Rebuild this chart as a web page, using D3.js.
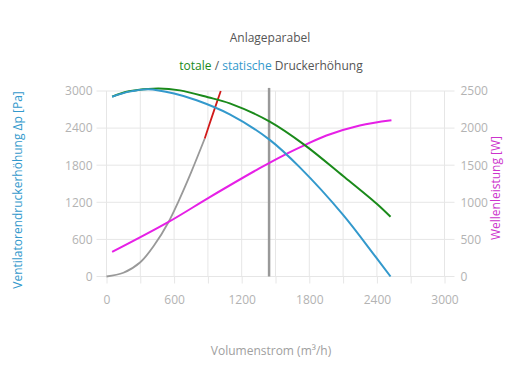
<!DOCTYPE html>
<html>
<head>
<meta charset="utf-8">
<script src="https://cdn.jsdelivr.net/npm/d3@7"></script>
<style>
  body { margin: 0; background: #fff; }
  svg text { font-family: "Open Sans", sans-serif; }
</style>
</head>
<body>
<div id="chart"></div>
<script>
// Chart Params
var svgWidth = 530;
var svgHeight = 390;
var margin = { top: 91, right: 85.5, bottom: 113.5, left: 106.5 };
var width = svgWidth - margin.left - margin.right;
var height = svgHeight - margin.top - margin.bottom;

// data (Q in m3/h)
var xTicks = [0, 600, 1200, 1800, 2400, 3000];
var yLeftTicks = [0, 600, 1200, 1800, 2400, 3000];
var yRightTicks = [0, 500, 1000, 1500, 2000, 2500];

var staticQ = [50, 200, 370, 600, 800, 1094, 1449, 1716, 2100, 2396, 2521];
var staticP = [2908, 2990, 3030, 2960, 2850, 2622, 2210, 1765, 997, 300, 0];

var totalQ = [50, 200, 458, 651, 900, 1094, 1449, 1760, 2100, 2396, 2521];
var totalP = [2910, 2995, 3040, 3010, 2900, 2800, 2505, 2125, 1625, 1180, 965];

var powerQ = [50, 547, 917, 1360, 1568, 1745, 1952, 2248, 2529];
var powerW = [331, 732, 1070, 1460, 1630, 1760, 1900, 2035, 2105];

var systemQ = [0, 150, 300, 429, 547, 650, 750, 872];
var systemP = [0, 60, 230, 520, 870, 1260, 1680, 2232];

var redQ = [872, 931, 1014];
var redP = [2232, 2557, 3000];

var opQ = 1443; // vertical marker line

var svg = d3.select("#chart")
  .append("svg")
  .attr("width", svgWidth)
  .attr("height", svgHeight);

var chartGroup = svg.append("g")
  .attr("transform", `translate(${margin.left}, ${margin.top})`);

var xScale = d3.scaleLinear().domain([0, 3000]).range([0, width]);
var yLeft = d3.scaleLinear().domain([0, 3000]).range([height, 0]);
var yRight = d3.scaleLinear().domain([0, 2500]).range([height, 0]);

// gridlines
chartGroup.append("g")
  .selectAll("line")
  .data(d3.range(0, 3001, 300))
  .enter()
  .append("line")
  .attr("x1", d => xScale(d))
  .attr("x2", d => xScale(d))
  .attr("y1", 0)
  .attr("y2", height)
  .attr("stroke", "#e6e6e6");

chartGroup.append("g")
  .selectAll("line")
  .data(yLeftTicks)
  .enter()
  .append("line")
  .attr("x1", -10)
  .attr("x2", width + 10)
  .attr("y1", d => yLeft(d))
  .attr("y2", d => yLeft(d))
  .attr("stroke", "#e6e6e6");

// axes
var bottomAxis = d3.axisBottom(xScale).tickValues(d3.range(0, 3001, 300))
  .tickFormat(d => xTicks.indexOf(d) >= 0 ? String(d) : "").tickSize(7).tickPadding(12);
var leftAxis = d3.axisLeft(yLeft).tickValues(yLeftTicks)
  .tickFormat(d3.format("d")).tickSize(0).tickPadding(14);
var rightAxis = d3.axisRight(yRight).tickValues(yRightTicks)
  .tickFormat(d3.format("d")).tickSize(0).tickPadding(16);

var xAxis = chartGroup.append("g")
  .attr("transform", `translate(0, ${height})`)
  .call(bottomAxis);
var yAxisL = chartGroup.append("g").call(leftAxis);
var yAxisR = chartGroup.append("g")
  .attr("transform", `translate(${width}, 0)`)
  .call(rightAxis);

[xAxis, yAxisL, yAxisR].forEach(function(a) {
  a.select(".domain").remove();
  a.selectAll("line").attr("stroke", "#e6e6e6");
  a.selectAll("text").attr("fill", "#b3b3b3").style("font-size", "12px");
});

// lines
var lineL = d3.line()
  .x(d => xScale(d[0]))
  .y(d => yLeft(d[1]))
  .curve(d3.curveCatmullRom.alpha(0.5));
var lineR = d3.line()
  .x(d => xScale(d[0]))
  .y(d => yRight(d[1]))
  .curve(d3.curveCatmullRom.alpha(0.5));

function pairs(a, b) { return a.map((v, i) => [v, b[i]]); }

chartGroup.append("line")
  .attr("x1", xScale(opQ))
  .attr("x2", xScale(opQ))
  .attr("y1", yLeft(3050))
  .attr("y2", yLeft(0))
  .attr("stroke", "#999")
  .attr("stroke-width", 2.5);

chartGroup.append("path")
  .datum(pairs(systemQ, systemP))
  .attr("d", lineL)
  .attr("fill", "none")
  .attr("stroke", "#999")
  .attr("stroke-width", 1.8);

chartGroup.append("path")
  .datum(pairs(redQ, redP))
  .attr("d", lineL)
  .attr("fill", "none")
  .attr("stroke", "#d11a1a")
  .attr("stroke-width", 1.8);

chartGroup.append("path")
  .datum(pairs(powerQ, powerW))
  .attr("d", lineR)
  .attr("fill", "none")
  .attr("stroke", "#e620e6")
  .attr("stroke-width", 2);

chartGroup.append("path")
  .datum(pairs(totalQ, totalP))
  .attr("d", lineL)
  .attr("fill", "none")
  .attr("stroke", "#1a8a1a")
  .attr("stroke-width", 2);

chartGroup.append("path")
  .datum(pairs(staticQ, staticP))
  .attr("d", lineL)
  .attr("fill", "none")
  .attr("stroke", "#3399cc")
  .attr("stroke-width", 2);

// titles
svg.append("text")
  .attr("x", 270)
  .attr("y", 42)
  .attr("text-anchor", "middle")
  .attr("fill", "#555")
  .style("font-size", "12px")
  .text("Anlageparabel");

var sub = svg.append("text")
  .attr("x", 271)
  .attr("y", 70)
  .attr("text-anchor", "middle")
  .attr("fill", "#555")
  .style("font-size", "12px");
sub.append("tspan").attr("fill", "#1a8a1a").text("totale");
sub.append("tspan").text(" / ");
sub.append("tspan").attr("fill", "#3399cc").text("statische");
sub.append("tspan").text(" Druckerhöhung");

svg.append("text")
  .attr("x", 271)
  .attr("y", 355)
  .attr("text-anchor", "middle")
  .attr("fill", "#a0a0a0")
  .style("font-size", "12px")
  .text("Volumenstrom (m³/h)");

svg.append("text")
  .attr("transform", "translate(22, 190) rotate(-90)")
  .attr("text-anchor", "middle")
  .attr("fill", "#3399cc")
  .style("font-size", "12px")
  .text("Ventilatorendruckerhöhung Δp [Pa]");

svg.append("text")
  .attr("transform", "translate(500, 188) rotate(-90)")
  .attr("text-anchor", "middle")
  .attr("fill", "#cc33cc")
  .style("font-size", "12px")
  .text("Wellenleistung [W]");
</script>
</body>
</html>
